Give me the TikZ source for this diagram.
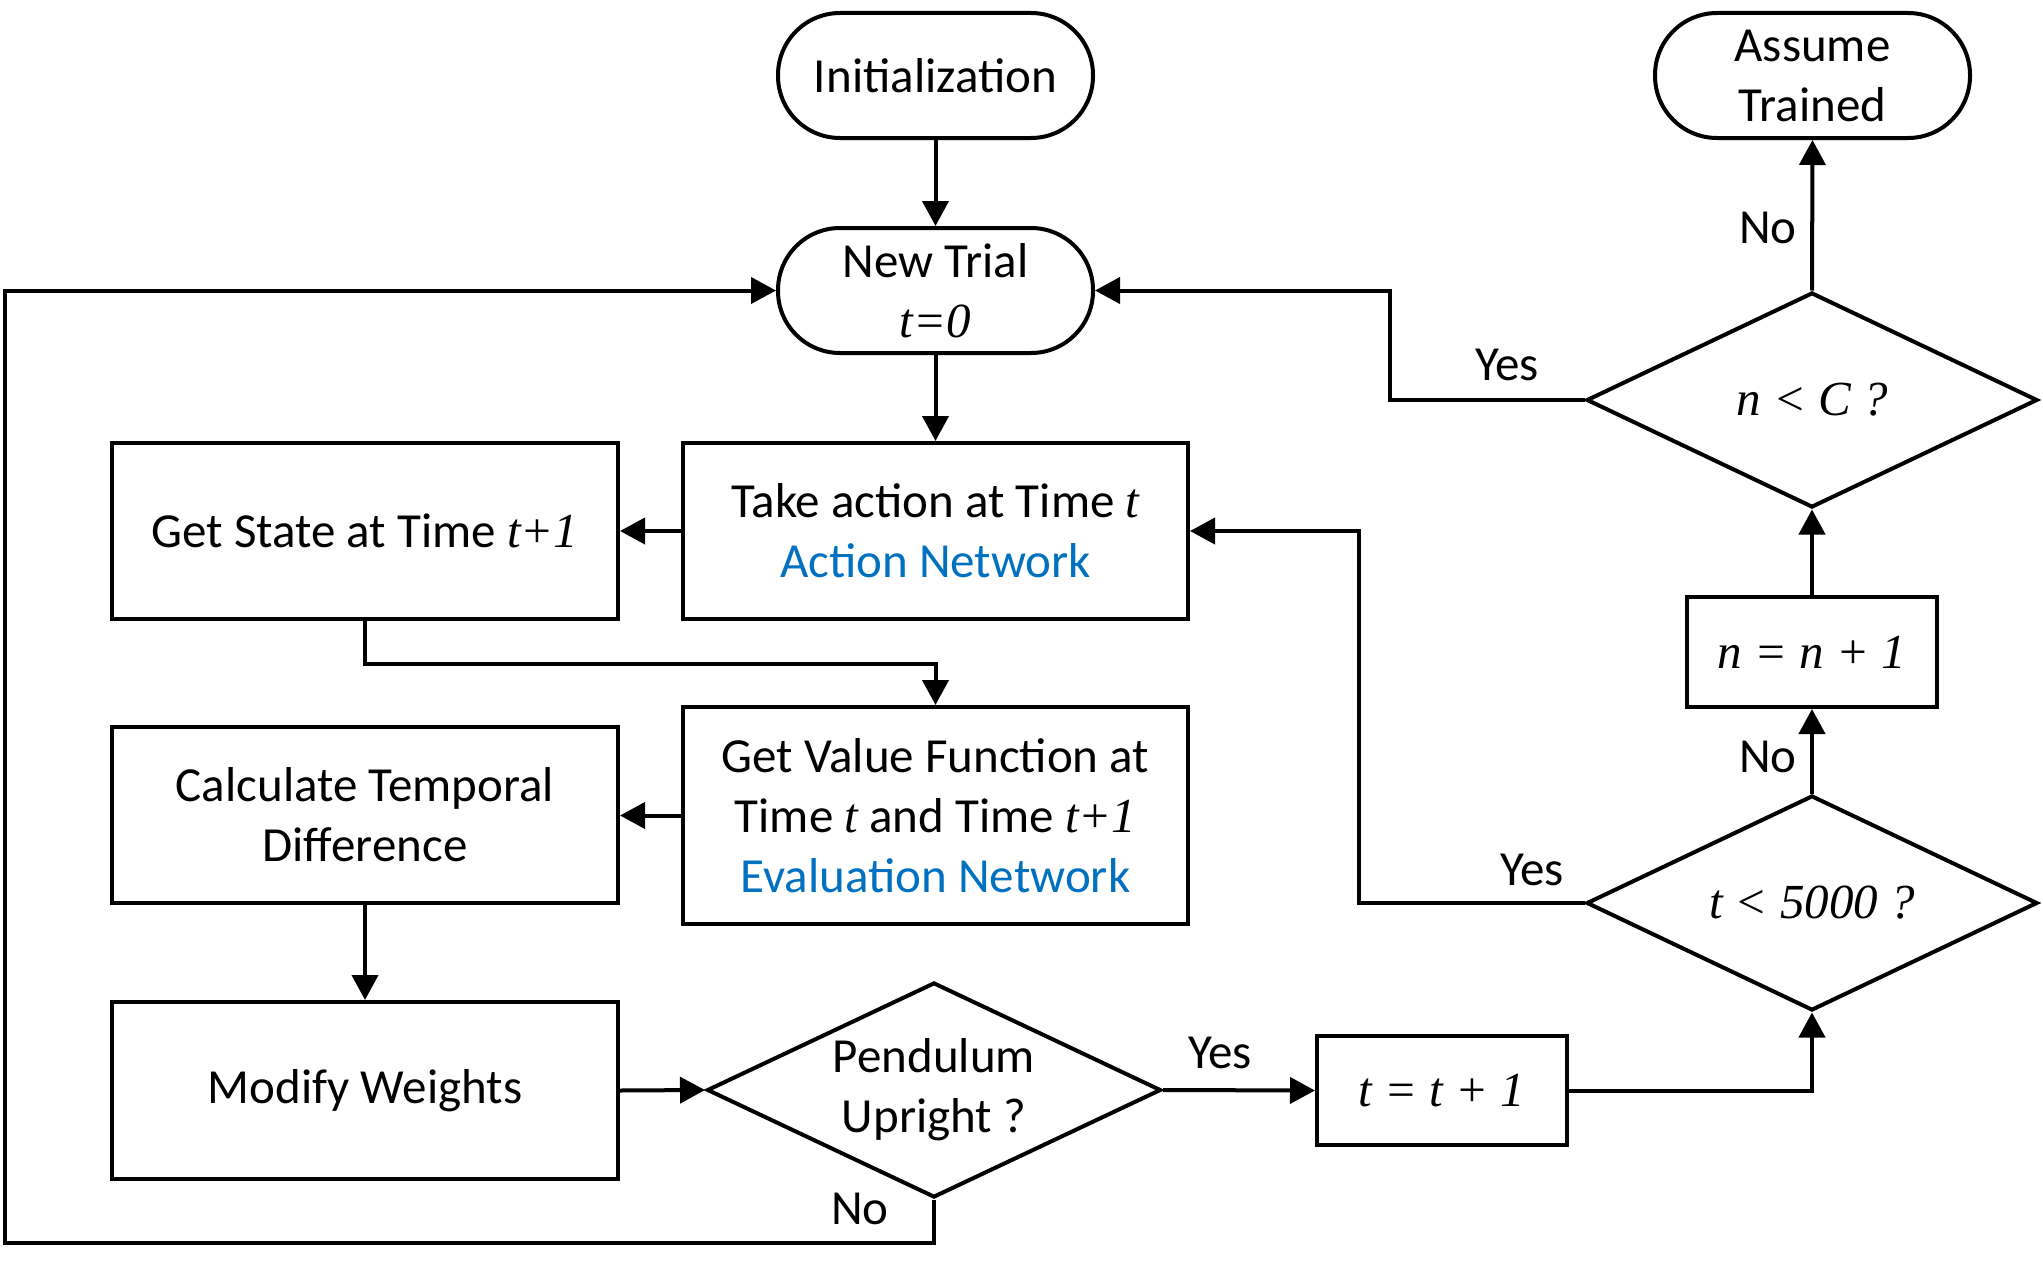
\documentclass[tikz,border=0pt]{standalone}
\usepackage{fontspec}
\setmainfont{Carlito}
\newfontfamily\mathfont{Liberation Serif}
\usetikzlibrary{shapes.geometric, arrows.meta}
\definecolor{netblue}{HTML}{0070C0}
\newcommand\mv[1]{{\mathfont\itshape #1}}
\begin{document}
\begin{tikzpicture}[x=1pt, y=-1pt,
  base/.style={draw, line width=4pt, font=\fontsize{49}{60}\selectfont, align=center, inner sep=0pt},
  term/.style={base, rectangle, rounded corners=62pt, minimum width=315pt, minimum height=125pt},
  proc/.style={base, rectangle},
  dec/.style={base, diamond, minimum width=451pt, minimum height=215pt},
  dtext/.style={font=\fontsize{49}{60}\selectfont, align=center, inner sep=0pt},
  arr/.style={-{Triangle[length=25pt,width=26pt]}, line width=4pt},
  lab/.style={font=\fontsize{49}{60}\selectfont, inner sep=0pt}]
\fill[white] (0,0) rectangle (2043,1263);
\useasboundingbox (0,0) rectangle (2043,1263);

\node[term] (init) at (935.5,75.5) {Initialization};
\node[term] (new) at (935.5,290.5) {New Trial\\\mv{t=0}};
\node[term] (assume) at (1812.5,75.5) {Assume\\Trained};
\node[proc, minimum width=505pt, minimum height=176pt] (take) at (935.5,531) {Take action at Time \mv{t}\\\textcolor{netblue}{Action Network}};
\node[proc, minimum width=506pt, minimum height=176pt] (state) at (365,531) {Get State at Time \mv{t+1}};
\node[proc, minimum width=505pt, minimum height=217pt] (value) at (935.5,815.5) {Get Value Function at\\Time \mv{t} and Time \mv{t+1}\\\textcolor{netblue}{Evaluation Network}};
\node[proc, minimum width=506pt, minimum height=176pt] (calc) at (365,815) {Calculate Temporal\\Difference};
\node[proc, minimum width=506pt, minimum height=177pt] (modify) at (365,1090.5) {Modify Weights};
\node[dec, minimum width=454pt, label={[dtext]center:Pendulum\\Upright ?}] (pend) at (934,1090) {};
\node[proc, minimum width=250pt, minimum height=109pt] (tinc) at (1442,1090.5) {\mv{t = t + 1}};
\node[dec, label={[dtext]center:\mv{t < 5000 ?}}] (tdec) at (1812,903) {};
\node[proc, minimum width=250pt, minimum height=110pt] (ninc) at (1812,652) {\mv{n = n + 1}};
\node[dec, label={[dtext]center:\mv{n < C ?}}] (ndec) at (1812,400) {};

\coordinate (lb) at (5,1243);
\coordinate (c1) at (1359,903);
\coordinate (c2) at (1390,400);

\draw[arr] (init) -- (new);
\draw[arr] (new) -- (take);
\draw[arr] (take) -- (state);
\draw[arr] (state.south) -- ++(0,43) -| (value.north);
\draw[arr] (value.west) -- (calc.east |- value.west);
\draw[arr] (calc) -- (modify);
\draw[arr] (modify.east) -- (pend.west);
\draw[arr] (pend.east) -- (tinc.west);
\draw[arr] (pend.south) |- (lb) |- (new.west);
\draw[arr] (tinc.east) -| (tdec.south);
\draw[arr] (tdec.west) -- (c1) |- (take.east);
\draw[arr] (tdec.north) -- (ninc.south);
\draw[arr] (ninc.north) -- (ndec.south);
\draw[arr] (ndec.west) -- (c2) |- (new.east);
\draw[arr] (ndec.north) -- (assume.south);

\node[lab] (l1) at (1220,1053) {Yes};
\node[lab] (l2) at (860,1209) {No};
\node[lab] (l3) at (1532,870) {Yes};
\node[lab] (l4) at (1768,757) {No};
\node[lab] (l5) at (1507,365) {Yes};
\node[lab] (l6) at (1768,228) {No};
\end{tikzpicture}
\end{document}
